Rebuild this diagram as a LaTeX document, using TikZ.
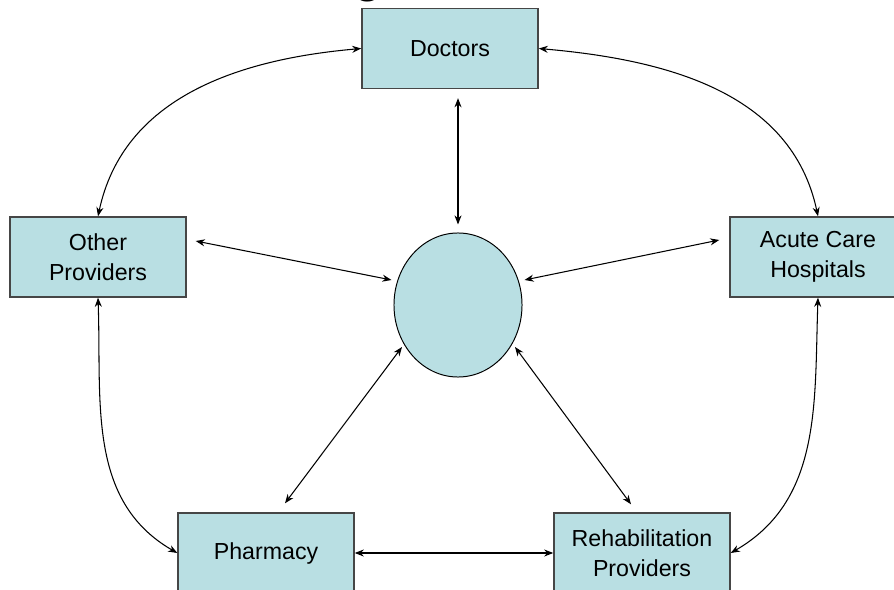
\documentclass[tikz,border=0pt]{standalone}
\usepackage{fontspec}
\setmainfont{Liberation Sans}
\usetikzlibrary{arrows.meta,shapes.geometric}
\definecolor{boxfill}{RGB}{185,223,227}
\definecolor{boxline}{RGB}{70,70,70}
\begin{document}
\begin{tikzpicture}[x=0.025cm,y=-0.025cm,
  box/.style={draw=boxline,line width=1pt,fill=boxfill,minimum width=4.4cm,minimum height=2cm,
    inner sep=0pt,align=center,font=\fontsize{16.5}{21}\selectfont},
  hub/.style={ellipse,draw=black,line width=0.7pt,fill=boxfill,minimum width=3.2cm,minimum height=3.6cm,inner sep=0pt},
  dbl/.style={{Stealth[length=6.5pt,width=5pt]}-{Stealth[length=6.5pt,width=5pt]},line width=0.75pt,black}]
\useasboundingbox (0,0) rectangle (894,590);
\clip (0,0) rectangle (894,590);
\node[anchor=base,inner sep=0pt,font=\fontsize{32}{38}\bfseries] (ttl) at (368,-7) {g};
\node[box] (doc) at (450,48.5) {Doctors};
\node[box] (oth) at (98,257) {Other\\Providers};
\node[box] (acu) at (818,257) {Acute Care\\Hospitals};
\node[box] (pha) at (266,553) {Pharmacy};
\node[box] (reh) at (642,553) {Rehabilitation\\Providers};
\node[hub] (ell) at (458,305) {};
% spokes
\draw[dbl] ([shift={(8,9)}]doc.south) -- ([shift={(0,-8)}]ell.north);
\draw[dbl] ([shift={(9,-16)}]oth.east) -- ([shift={(-2,-25)}]ell.west);
\draw[dbl] ([shift={(-10,-17)}]acu.west) -- ([shift={(2,-25)}]ell.east);
\draw[dbl] ([shift={(19,-9)}]pha.north) -- ([shift={(-56,42)}]ell.center);
\draw[dbl] ([shift={(-11,-8)}]reh.north) -- ([shift={(57,42)}]ell.center);
\draw[dbl] (pha.east) -- (reh.west);
% rim curves
\draw[dbl] (doc.west) to[out=185,in=78] (oth.north);
\draw[dbl] (doc.east) to[out=-5,in=102] (acu.north);
\draw[dbl] (oth.south) to[out=-88,in=150] (pha.west);
\draw[dbl] (acu.south) to[out=-92,in=30] (reh.east);
\end{tikzpicture}
\end{document}
